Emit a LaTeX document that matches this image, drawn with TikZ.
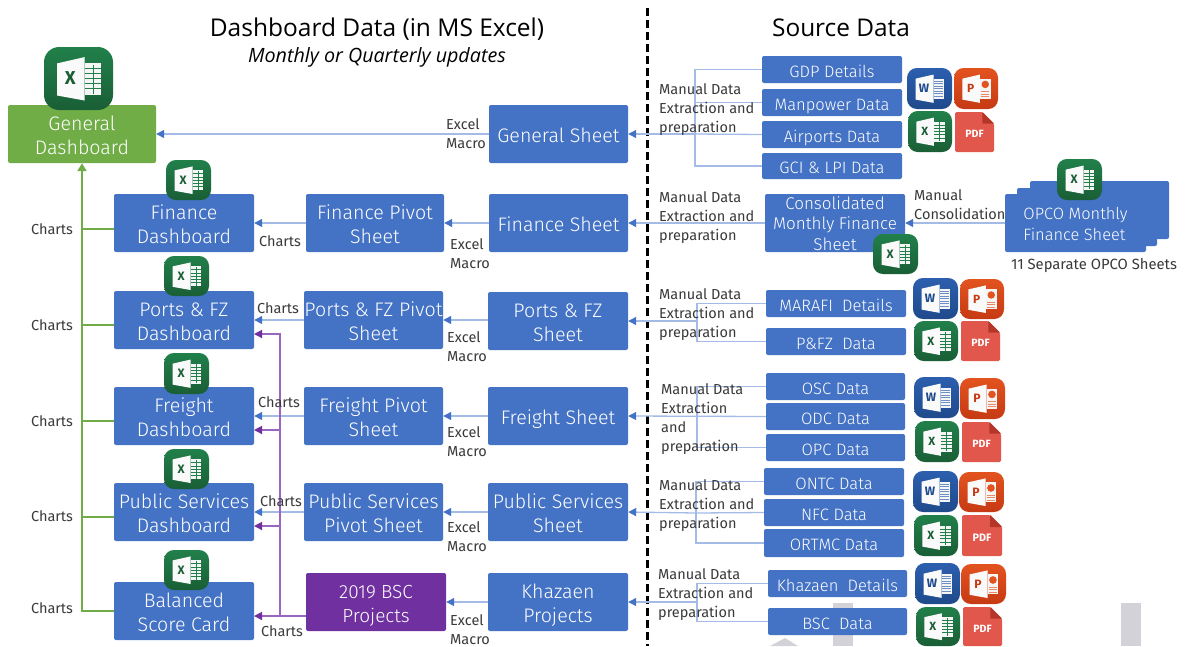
\documentclass[tikz,border=0pt]{standalone}
\usepackage{fontspec}
\setmainfont{Fira Sans}
\newfontfamily\boxfont{Fira Sans}[UprightFont=* Light]
\newfontfamily\titlefont{Open Sans}
\usetikzlibrary{arrows.meta,calc}
\definecolor{bluebox}{HTML}{4472C4}
\definecolor{greenbox}{HTML}{70AD47}
\definecolor{purplebox}{HTML}{7030A0}
\definecolor{linkblue}{HTML}{A3BBE6}
\definecolor{purpleline}{HTML}{9A66C0}
\definecolor{labelgrey}{HTML}{3A3A3A}
\definecolor{ghost}{HTML}{D4D2D9}
\definecolor{xlA}{HTML}{21804A}\definecolor{xlB}{HTML}{1A5E36}
\definecolor{wdA}{HTML}{2C5FAE}\definecolor{wdB}{HTML}{1F4A8C}
\definecolor{ppA}{HTML}{E2531F}\definecolor{ppB}{HTML}{C63A14}
\definecolor{pdfred}{HTML}{E2574C}\definecolor{pdffold}{HTML}{B53629}
\tikzset{
  x=1pt,y=-1pt,
  basebox/.style={rounded corners=2pt,inner sep=0pt,align=center,text=white},
  bigbox/.style={basebox,fill=bluebox,font=\boxfont\fontsize{19.6}{24}\selectfont,text height=45pt,text depth=4pt},
  onelinebox/.style={bigbox,text height=20pt,text depth=4pt},
  greenbigbox/.style={bigbox,fill=greenbox},
  purplebigbox/.style={bigbox,fill=purplebox,font=\boxfont\fontsize{19}{24}\selectfont,text height=44pt},
  srcbox/.style={basebox,fill=bluebox,font=\boxfont\fontsize{16.5}{20}\selectfont,text height=19pt,text depth=3.6pt},
  consbox/.style={basebox,fill=bluebox,font=\boxfont\fontsize{17}{20.5}\selectfont,text height=54pt,text depth=0pt},
  opcobox/.style={basebox,fill=bluebox,align=left,font=\boxfont\fontsize{16.4}{21}\selectfont,text height=38pt,text depth=4pt},
  lab/.style={text=labelgrey,inner sep=0pt,align=left,font=\fontsize{14.5}{19}\selectfont},
  link/.style={draw=linkblue,line width=1.3pt},
  linkarrow/.style={link,-{Triangle[color=bluebox,length=8pt,width=8pt]}},
  greenline/.style={draw=greenbox,line width=2.8pt},
  purplelink/.style={draw=purpleline,line width=1.2pt},
  purplearrow/.style={purplelink,-{Triangle[color=purplebox,length=8pt,width=8pt]}},
  divider/.style={draw=black,line width=3pt,dash pattern=on 8pt off 4pt},
}
% box: name, x0,y0,x1,y1, style, text
\newcommand{\bx}[7]{%
  \pgfmathsetmacro{\bw}{#4-#2}\pgfmathsetmacro{\bh}{#5-#3}%
  \node[#6,minimum width=\bw pt,minimum height=\bh pt,anchor=center] (#1) at ({(#2+#4)/2},{(#3+#5)/2}) {#7};}
% app icon common: name,x0,y0,x1,y1,colA,colB,letter colour
\newcommand{\iconbase}[8]{%
  \pgfmathsetmacro{\iw}{#4-#2}\pgfmathsetmacro{\ih}{#5-#3}%
  \pgfmathsetmacro{\ifs}{0.27*\iw}%
  \pgfmathsetmacro{\irc}{0.22*\iw}%
  \node[rounded corners=\irc pt,top color=#6,bottom color=#7,minimum width=\iw pt,minimum height=\ih pt,inner sep=0pt] (#1) at ({(#2+#4)/2},{(#3+#5)/2}) {};
  \fill[white!96!gray] ($(#2,#3)+(0.19*\iw,0.26*\ih)$) -- ($(#2,#3)+(0.59*\iw,0.16*\ih)$) -- ($(#2,#3)+(0.59*\iw,0.85*\ih)$) -- ($(#2,#3)+(0.19*\iw,0.77*\ih)$) -- cycle;
  \fill[white!92!gray] ($(#2,#3)+(0.59*\iw,0.26*\ih)$) rectangle ($(#2,#3)+(0.83*\iw,0.76*\ih)$);
  \node[inner sep=0pt,text=#8,font=\bfseries\fontsize{\ifs}{\ifs}\selectfont] (#1t) at ($(#2,#3)+(0.38*\iw,0.50*\ih)$) {\iconletter};
}
\newcommand{\xlicon}[5]{\def\iconletter{X}%
  \iconbase{#1}{#2}{#3}{#4}{#5}{xlA}{xlB}{xlB}
  \foreach \u in {0.34,0.42,0.50,0.58,0.66}{\draw[xlA,line width=.6pt] ($(#2,#3)+(0.59*\iw,\u*\ih)$) -- ($(#2,#3)+(0.83*\iw,\u*\ih)$);}
  \draw[xlA,line width=.6pt] ($(#2,#3)+(0.71*\iw,0.28*\ih)$) -- ($(#2,#3)+(0.71*\iw,0.74*\ih)$);}
\newcommand{\wdicon}[5]{\def\iconletter{W}%
  \iconbase{#1}{#2}{#3}{#4}{#5}{wdA}{wdB}{wdB}
  \foreach \u in {0.32,0.38,0.44,0.50,0.56,0.62,0.68}{\draw[wdA!70!white,line width=.6pt] ($(#2,#3)+(0.61*\iw,\u*\ih)$) -- ($(#2,#3)+(0.81*\iw,\u*\ih)$);}}
\newcommand{\ppicon}[5]{\def\iconletter{P}%
  \iconbase{#1}{#2}{#3}{#4}{#5}{ppA}{ppB}{ppB}
  \fill[ppA] ($(#2,#3)+(0.71*\iw,0.40*\ih)$) circle (0.085*\iw);
  \foreach \u in {0.58,0.64,0.70}{\draw[ppA!70!white,line width=.6pt] ($(#2,#3)+(0.62*\iw,\u*\ih)$) -- ($(#2,#3)+(0.80*\iw,\u*\ih)$);}}
\newcommand{\pdficon}[5]{%
  \pgfmathsetmacro{\iw}{#4-#2}\pgfmathsetmacro{\ih}{#5-#3}%
  \pgfmathsetmacro{\ifs}{0.27*\iw}%
  \fill[pdfred,rounded corners=1.5pt] (#2,#3) -- (#4-0.3*\iw,#3) -- (#4,#3+0.3*\iw) -- (#4,#5) -- (#2,#5) -- cycle;
  \fill[pdffold] (#4-0.3*\iw,#3) -- (#4,#3+0.3*\iw) -- (#4-0.3*\iw,#3+0.3*\iw) -- cycle;
  \node[inner sep=0pt,text=white,font=\bfseries\fontsize{\ifs}{\ifs}\selectfont] (#1) at ({(#2+#4)/2},{(#3+#5)/2+2}) {PDF};}
\begin{document}
\begin{tikzpicture}
\useasboundingbox (0,0) rectangle (1190,646);
\fill[white] (0,0) rectangle (1190,646);
% faint shapes at the bottom edge
\fill[ghost] (833,603) rectangle (853,646);
\fill[ghost] (1121,603) rectangle (1141,646);
\fill[ghost] (770,646) -- (785,638) -- (798,646) -- cycle;

% left column
\bx{gd}{8}{105}{156}{163}{greenbigbox}{General\\Dashboard}
\bx{fd}{114}{194}{254}{252}{bigbox}{Finance\\Dashboard}
\bx{pd}{114}{291}{254}{349}{bigbox}{Ports \& FZ\\Dashboard}
\bx{rd}{114}{387}{254}{445}{bigbox}{Freight\\Dashboard}
\bx{sd}{114}{483}{254}{541}{bigbox}{Public Services\\Dashboard}
\bx{bd}{114}{582}{254}{640}{bigbox}{Balanced\\Score Card}
% pivots
\bx{fp}{306}{194}{444}{252}{bigbox}{Finance Pivot\\Sheet}
\bx{pp}{304}{291}{443}{349}{bigbox}{Ports \& FZ Pivot\\Sheet}
\bx{rp}{304}{387}{443}{445}{bigbox}{Freight Pivot\\Sheet}
\bx{sp}{304}{483}{443}{541}{bigbox}{Public Services\\Pivot Sheet}
\bx{bp}{306}{573}{446}{631}{purplebigbox}{2019 BSC\\Projects}
% sheets
\bx{gs}{489}{105}{628}{163}{onelinebox}{General Sheet}
\bx{fs}{489}{194}{628}{252}{onelinebox}{Finance Sheet}
\bx{ps}{488}{292}{628}{350}{bigbox}{Ports \& FZ\\Sheet}
\bx{rs}{488}{387}{628}{445}{onelinebox}{Freight Sheet}
\bx{ss}{488}{483}{628}{541}{bigbox}{Public Services\\Sheet}
\bx{ks}{488}{573}{628}{631}{bigbox}{Khazaen\\Projects}
% sources
\bx{gdp}{762}{56}{902}{83}{srcbox}{GDP Details}
\bx{man}{762}{89}{902}{116}{srcbox}{Manpower Data}
\bx{air}{762}{121}{902}{148}{srcbox}{Airports Data}
\bx{gci}{762}{153}{902}{179}{srcbox}{GCI \& LPI Data}
\bx{cons}{765}{194}{905}{252}{consbox}{Consolidated\\Monthly Finance\\Sheet}
\bx{mar}{766}{290}{906}{317}{srcbox}{MARAFI\ \ Details}
\bx{pfz}{766}{328}{906}{355}{srcbox}{P\&FZ\ \ Data}
\bx{osc}{766}{373}{905}{400}{srcbox}{OSC Data}
\bx{odc}{766}{403}{905}{430}{srcbox}{ODC Data}
\bx{opc}{766}{434}{905}{461}{srcbox}{OPC Data}
\bx{ont}{764}{468}{904}{495}{srcbox}{ONTC Data}
\bx{nfc}{764}{499}{904}{526}{srcbox}{NFC Data}
\bx{ort}{764}{529}{904}{557}{srcbox}{ORTMC Data}
\bx{kd}{768}{570}{907}{597}{srcbox}{Khazaen\ \ Details}
\bx{bsc}{768}{608}{907}{635}{srcbox}{BSC\ \ Data}
% OPCO stack
\fill[bluebox,rounded corners=2pt] (1030,181) rectangle (1169,239);
\fill[bluebox,rounded corners=2pt] (1017,188) rectangle (1157,246);
\bx{opf}{1005}{194}{1146}{252}{opcobox}{OPCO Monthly\\Finance Sheet}

% junctions
\coordinate (jg) at (695,134);
\coordinate (jp) at (697,321);
\coordinate (jr) at (697,417);
\coordinate (js) at (696,513);
\coordinate (jk) at (697,602);
\coordinate (gf) at (114,229);
\coordinate (gp) at (114,325);
\coordinate (gr) at (114,421);
\coordinate (gs2) at (114,517);
\coordinate (pb) at (280,616);
\coordinate (pb1) at (254,334);
\coordinate (pb2) at (254,430);
\coordinate (pb3) at (254,526);
\coordinate (pbs) at (306,616);
\coordinate (pbe) at (254,616);
\coordinate (dtop) at (647,8);
\coordinate (dbot) at (647,646);

% divider
\draw[divider] (dtop) -- (dbot);

% connectors: sheets to dashboards
\draw[linkarrow] (gs.west) -- (gd.east);
\draw[linkarrow] (fs.west) -- (fp.east);
\draw[linkarrow] (fp.west) -- (fd.east);
\draw[linkarrow] (ps.west |- pp.east) -- (pp.east);
\draw[linkarrow] (pp.west) -- (pd.east);
\draw[linkarrow] (rs.west) -- (rp.east);
\draw[linkarrow] (rp.west) -- (rd.east);
\draw[linkarrow] (ss.west) -- (sp.east);
\draw[linkarrow] (sp.west) -- (sd.east);
\draw[linkarrow] (ks.west) -- (bp.east);
% sources to sheets
\draw[linkarrow] (jg) -- (gs.east);
\draw[link] (gdp.west) -| (jg);
\draw[link] (man.west) -| (jg);
\draw[link] (air.west) -- (jg);
\draw[link] (gci.west) -| (jg);
\draw[linkarrow] (cons.west) -- (fs.east);
\draw[linkarrow] (opf.west) -- (cons.east);
\draw[linkarrow] (jp) -- (ps.east);
\draw[link] (mar.west) -| (jp);
\draw[link] (pfz.west) -| (jp);
\draw[linkarrow] (odc.west) -- (rs.east);
\draw[link] (osc.west) -| (jr);
\draw[link] (opc.west) -| (jr);
\draw[linkarrow] (js) -- (ss.east);
\draw[link] (ont.west) -| (js);
\draw[link] (nfc.west) -- (js);
\draw[link] (ort.west) -| (js);
\draw[linkarrow] (jk) -- (ks.east);
\draw[link] (kd.west) -| (jk);
\draw[link] (bsc.west) -| (jk);
% green
\draw[greenline,-{Triangle[color=greenbox,length=8pt,width=9pt]}] (bd.west) -| (gd.south);
\draw[greenline] (gf) -- (gf -| gd.south);
\draw[greenline] (gp) -- (gp -| gd.south);
\draw[greenline] (gr) -- (gr -| gd.south);
\draw[greenline] (gs2) -- (gs2 -| gd.south);
% purple
\draw[purplearrow] (pbs) -- (pbe);
\draw[purplearrow] (pb) |- (pb1);
\draw[purplearrow] (pb) |- (pb2);
\draw[purplearrow] (pb) |- (pb3);

% labels
\node[anchor=center,inner sep=0pt,font=\titlefont\fontsize{24.5}{28}\selectfont] (t1) at (377,29) {Dashboard Data (in MS Excel)};
\node[anchor=center,inner sep=0pt,font=\titlefont\itshape\fontsize{19.7}{22}\selectfont] (t2) at (377,57) {Monthly or Quarterly updates};
\node[anchor=center,inner sep=0pt,font=\titlefont\fontsize{24.4}{28}\selectfont] (t3) at (841,28) {Source Data};

\foreach \nm/\px/\py in {c1/52/229,c2/52/325,c3/52/421,c4/52/516,c5/52/608,c6/280/241,c7/278/308,c8/279/402,c9/281/501,c10/282/631}{
  \node[lab,anchor=center] (\nm) at (\px,\py) {Charts};}
\foreach \nm/\px/\py in {e1/446/133.5,e2/450/253.5,e3/447/346.5,e4/447/442,e5/447/536.5,e6/450/629.5}{
  \node[lab,anchor=west] (\nm) at (\px,\py) {Excel\\Macro};}
\foreach \nm/\px/\py in {m1/659/110,m2/659/218,m3/659/315,m5/659/506,m6/658/595}{
  \node[lab,anchor=west] (\nm) at (\px,\py) {Manual Data\\Extraction and\\preparation};}
\node[lab,anchor=west] (m4) at (661,419.5) {Manual Data\\Extraction\\and\\preparation};
\node[lab,anchor=west] (mc) at (914,205) {Manual\\Consolidation};
\node[lab,anchor=center,font=\fontsize{14.8}{19}\selectfont] (n11) at (1094,266) {11 Separate OPCO Sheets};

% icons
\xlicon{ix0}{44}{47}{113}{110}
\xlicon{ix1}{166}{160}{211}{200}
\xlicon{ix2}{164}{256}{209}{296}
\xlicon{ix3}{164}{353}{209}{394}
\xlicon{ix4}{164}{449}{209}{489}
\xlicon{ix5}{164}{550}{209}{590}
\xlicon{ix6}{1057}{159}{1102}{200}
\xlicon{ix7}{873}{234}{918}{274}

\wdicon{w1}{907}{68}{952}{109}
\ppicon{p1}{954}{68}{998}{109}
\xlicon{x1}{908}{111}{952}{152}
\pdficon{f1}{955}{112}{994}{152}

\wdicon{w2}{913}{278}{958}{319}
\ppicon{p2}{960}{279}{1004}{319}
\xlicon{x2}{914}{321}{958}{361}
\pdficon{f2}{961}{321}{1000}{361}

\wdicon{w3}{914}{377}{959}{418}
\ppicon{p3}{960}{378}{1005}{419}
\xlicon{x3}{915}{421}{959}{462}
\pdficon{f3}{962}{422}{1001}{462}

\wdicon{w4}{913}{471}{958}{512}
\ppicon{p4}{959}{472}{1004}{512}
\xlicon{x4}{914}{515}{958}{556}
\pdficon{f4}{962}{515}{1002}{556}

\wdicon{w5}{915}{563}{960}{604}
\ppicon{p5}{961}{564}{1006}{604}
\xlicon{x5}{916}{607}{960}{646}
\pdficon{f5}{963}{607}{1002}{646}
\end{tikzpicture}
\end{document}
